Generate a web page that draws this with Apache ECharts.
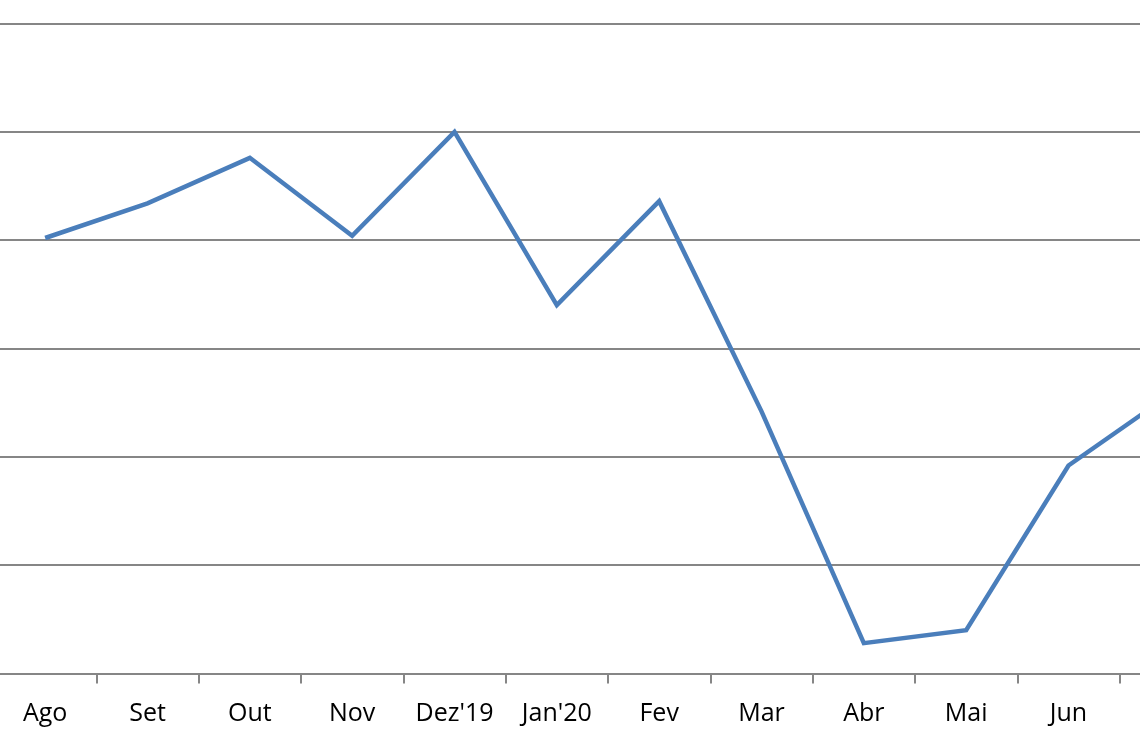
<!DOCTYPE html>
<html>
<head>
<meta charset="utf-8">
<script src="https://cdn.jsdelivr.net/npm/echarts@6/dist/echarts.min.js"></script>
<style>
html,body{margin:0;padding:0;background:#fff;overflow:hidden;width:1140px;height:742px;position:relative;}
#chart{position:absolute;left:-6px;top:0;width:1228px;height:742px;}
</style>
</head>
<body>
<div id="chart"></div>
<script>
const categories = ["Ago", "Set", "Out", "Nov", "Dez'19", "Jan'20", "Fev", "Mar", "Abr", "Mai", "Jun", "Jul"];
const values = [90.1, 91.7, 93.8, 90.2, 95.0, 87.0, 91.8, 82.1, 71.4, 72.0, 79.6, 82.9];
const yMin = 70, yMax = 100, yStep = 5;

const chart = echarts.init(document.getElementById('chart'), null, {renderer: 'canvas'});
chart.setOption({
  animation: false,
  backgroundColor: '#ffffff',
  grid: {left: 0, right: 0, top: 23.5, bottom: 68.5, containLabel: false},
  xAxis: {
    type: 'category',
    data: categories,
    boundaryGap: true,
    axisLine: {show: true, lineStyle: {color: '#868686', width: 2}},
    axisTick: {show: true, length: 10, lineStyle: {color: '#868686', width: 2}},
    axisLabel: {color: '#000', fontFamily: 'Open Sans', fontSize: 25, margin: 28, interval: 0},
    splitLine: {show: false}
  },
  yAxis: {
    type: 'value',
    min: yMin, max: yMax, interval: yStep,
    axisLine: {show: false},
    axisTick: {show: false},
    axisLabel: {show: false},
    splitLine: {show: true, lineStyle: {color: '#868686', width: 2}}
  },
  series: [{
    type: 'line',
    data: values,
    symbol: 'none',
    lineStyle: {color: '#4a7ebb', width: 4.5, join: 'miter'},
    clip: false
  }]
});
</script>
</body>
</html>
